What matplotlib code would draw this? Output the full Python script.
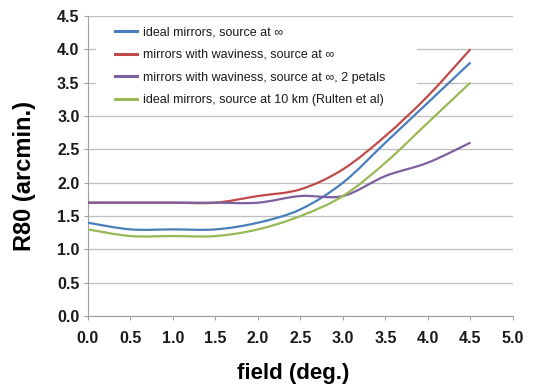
import matplotlib
matplotlib.use("Agg")
import matplotlib.pyplot as plt
from matplotlib.path import Path
from matplotlib.patches import PathPatch, Rectangle
from matplotlib.lines import Line2D

plt.rcParams["font.family"] = ["Liberation Sans", "DejaVu Sans"]

field = [0.0, 0.5, 1.0, 1.5, 2.0, 2.5, 3.0, 3.5, 4.0, 4.5]
ideal_inf = [1.40, 1.30, 1.30, 1.30, 1.40, 1.60, 2.00, 2.60, 3.20, 3.80]
wavy_inf = [1.70, 1.70, 1.70, 1.70, 1.80, 1.90, 2.20, 2.70, 3.30, 4.00]
wavy_petals = [1.70, 1.70, 1.70, 1.70, 1.70, 1.80, 1.80, 2.10, 2.30, 2.60]
ideal_10km = [1.30, 1.20, 1.20, 1.20, 1.30, 1.50, 1.80, 2.30, 2.90, 3.50]

labels = [
    "ideal mirrors, source at \u221e",
    "mirrors with waviness, source at \u221e",
    "mirrors with waviness, source at \u221e, 2 petals",
    "ideal mirrors, source at 10 km (Rulten et al)",
]
colors = ["#4A7EBB", "#BE4B48", "#7D60A0", "#98B954"]


def smooth_path(xs, ys, t=1 / 6):
    # Excel-style smoothed line: cubic bezier through every data point
    verts = [(xs[0], ys[0])]
    codes = [Path.MOVETO]
    n = len(xs)
    for i in range(n - 1):
        x0, y0 = (xs[i - 1], ys[i - 1]) if i > 0 else (xs[i], ys[i])
        x1, y1 = xs[i], ys[i]
        x2, y2 = xs[i + 1], ys[i + 1]
        x3, y3 = (xs[i + 2], ys[i + 2]) if i + 2 < n else (x2, y2)
        c1 = (x1 + (x2 - x0) * t, y1 + (y2 - y0) * t)
        c2 = (x2 - (x3 - x1) * t, y2 - (y3 - y1) * t)
        verts += [c1, c2, (x2, y2)]
        codes += [Path.CURVE4] * 3
    return Path(verts, codes)


fig = plt.figure(figsize=(5.36, 3.86), dpi=100)
ax = fig.add_axes([0.164, 0.181, 0.793, 0.778])

for ys, c in zip([ideal_inf, wavy_inf, wavy_petals, ideal_10km], colors):
    ax.add_patch(PathPatch(smooth_path(field, ys), facecolor="none",
                           edgecolor=c, lw=1.6, zorder=3))

ax.set_xlim(0, 5)
ax.set_ylim(0, 4.5)
ax.set_xticks([i * 0.5 for i in range(11)])
ax.set_yticks([i * 0.5 for i in range(10)])
ax.xaxis.set_major_formatter(plt.FormatStrFormatter("%.1f"))
ax.yaxis.set_major_formatter(plt.FormatStrFormatter("%.1f"))
for lab in ax.get_xticklabels() + ax.get_yticklabels():
    lab.set_fontweight("bold")
    lab.set_fontsize(11.5)
    lab.set_color("#1a1a1a")

ax.grid(axis="y", color="#BEBEBE", lw=0.9)
ax.set_axisbelow(True)
for s in ["top", "right"]:
    ax.spines[s].set_visible(False)
for s in ["left", "bottom"]:
    ax.spines[s].set_color("#A0A0A0")
ax.tick_params(axis="both", color="#A0A0A0", length=3, width=0.8)
ax.tick_params(axis="x", pad=8)
ax.tick_params(axis="y", pad=3)

ax.set_xlabel("field (deg.)", fontsize=16, fontweight="bold")
ax.set_ylabel("R80 (arcmin.)", fontsize=17, fontweight="bold")
ax.xaxis.set_label_coords(0.484, -0.155)
ax.yaxis.set_label_coords(-0.121, 0.467)

# white legend background hiding the gridlines behind it
ax.add_patch(Rectangle((0.02, 0.705), 0.755, 0.28, transform=ax.transAxes,
                       facecolor="white", edgecolor="none", zorder=2))

handles = [Line2D([], [], color=c, lw=2.2) for c in colors]
leg = ax.legend(handles, labels, loc="upper left", bbox_to_anchor=(0.038, 1.003),
                frameon=False, fontsize=9, labelspacing=0.86,
                handlelength=1.75, handletextpad=0.45)
leg.set_zorder(5)
for txt in leg.get_texts():
    txt.set_color("#1a1a1a")

fig.savefig("out.png", dpi=100)
